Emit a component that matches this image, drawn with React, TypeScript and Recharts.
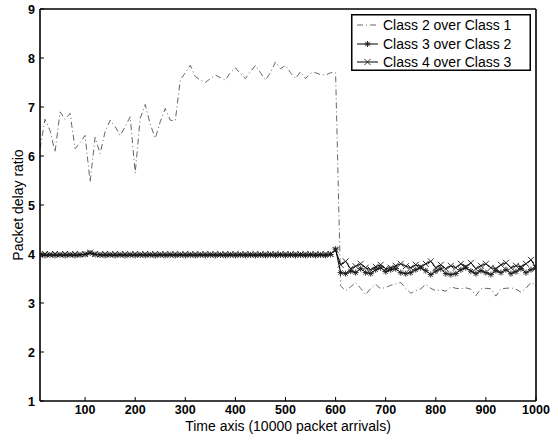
import React from "react";
import { LineChart, Line, XAxis, YAxis, Legend } from "recharts";

const TIME = [
  10, 20, 30, 40, 50, 60, 70, 80, 90, 100,
  110, 120, 130, 140, 150, 160, 170, 180, 190, 200,
  210, 220, 230, 240, 250, 260, 270, 280, 290, 300,
  310, 320, 330, 340, 350, 360, 370, 380, 390, 400,
  410, 420, 430, 440, 450, 460, 470, 480, 490, 500,
  510, 520, 530, 540, 550, 560, 570, 580, 590, 600,
  610, 620, 630, 640, 650, 660, 670, 680, 690, 700,
  710, 720, 730, 740, 750, 760, 770, 780, 790, 800,
  810, 820, 830, 840, 850, 860, 870, 880, 890, 900,
  910, 920, 930, 940, 950, 960, 970, 980, 990, 1000,
];

const CLASS2_OVER_1 = [
  6.15, 6.75, 6.52, 6.08, 6.9, 6.75, 6.87, 6.15, 6.27, 6.42,
  5.47, 6.38, 6.05, 6.5, 6.73, 6.6, 6.42, 6.6, 6.8, 5.65,
  6.77, 7.05, 6.65, 6.36, 6.7, 6.97, 6.73, 6.72, 7.55, 7.7,
  7.85, 7.62, 7.55, 7.5, 7.58, 7.65, 7.6, 7.55, 7.7, 7.8,
  7.68, 7.58, 7.72, 7.85, 7.7, 7.55, 7.7, 7.92, 7.78, 7.85,
  7.7, 7.58, 7.72, 7.58, 7.69, 7.7, 7.66, 7.65, 7.7, 7.7,
  3.35, 3.25, 3.33, 3.42, 3.3, 3.17, 3.3, 3.38, 3.29, 3.32,
  3.36, 3.39, 3.42, 3.3, 3.2, 3.25, 3.29, 3.38, 3.3, 3.25,
  3.27, 3.24, 3.33, 3.3, 3.29, 3.31, 3.28, 3.15, 3.29, 3.3,
  3.29, 3.14, 3.29, 3.3, 3.31, 3.28, 3.22, 3.3, 3.42, 3.36,
];

const CLASS3_OVER_2 = [
  3.98, 3.97, 3.98, 3.97, 3.98, 3.97, 3.98, 3.97, 3.98, 3.99,
  4.02, 3.99, 3.98, 3.97, 3.98, 3.97, 3.98, 3.97, 3.98, 3.97,
  3.98, 3.97, 3.98, 3.97, 3.98, 3.97, 3.98, 3.97, 3.98, 3.97,
  3.98, 3.97, 3.98, 3.97, 3.98, 3.97, 3.98, 3.97, 3.98, 3.97,
  3.98, 3.97, 3.98, 3.97, 3.98, 3.97, 3.98, 3.97, 3.98, 3.97,
  3.98, 3.97, 3.98, 3.97, 3.98, 3.97, 3.98, 3.97, 3.99, 4.1,
  3.62, 3.6, 3.65, 3.62, 3.7, 3.62, 3.6, 3.68, 3.72, 3.64,
  3.68, 3.7, 3.62, 3.6, 3.62, 3.68, 3.72, 3.66, 3.58, 3.65,
  3.7, 3.6, 3.58, 3.6, 3.68, 3.72, 3.65, 3.6, 3.66, 3.62,
  3.58, 3.66, 3.62, 3.68, 3.6, 3.64, 3.7, 3.62, 3.68, 3.72,
];

const CLASS4_OVER_3 = [
  3.99, 4.0, 3.99, 4.0, 3.99, 4.0, 3.99, 4.0, 3.99, 4.0,
  4.03, 4.0, 3.99, 4.0, 3.99, 4.0, 3.99, 4.0, 3.99, 4.0,
  3.99, 4.0, 3.99, 4.0, 3.99, 4.0, 3.99, 4.0, 3.99, 4.0,
  3.99, 4.0, 3.99, 4.0, 3.99, 4.0, 3.99, 4.0, 3.99, 4.0,
  3.99, 4.0, 3.99, 4.0, 3.99, 4.0, 3.99, 4.0, 3.99, 4.0,
  3.99, 4.0, 3.99, 4.0, 3.99, 4.0, 3.99, 4.0, 4.0, 4.08,
  3.78, 3.85, 3.7, 3.75, 3.8, 3.72, 3.68, 3.74, 3.78, 3.7,
  3.72, 3.76, 3.8, 3.75, 3.72, 3.78, 3.74, 3.8, 3.85, 3.72,
  3.78, 3.7, 3.76, 3.72, 3.8, 3.74, 3.82, 3.7, 3.76, 3.8,
  3.72, 3.7, 3.78, 3.82, 3.72, 3.76, 3.74, 3.8, 3.88, 3.72,
];

const X_TICKS = [100, 200, 300, 400, 500, 600, 700, 800, 900, 1000];
const Y_TICKS = [1, 2, 3, 4, 5, 6, 7, 8, 9];

const SERIES_NAMES = ["Class 2 over Class 1", "Class 3 over Class 2", "Class 4 over Class 3"];

const data = TIME.map((t, i) => ({
  t,
  c2: CLASS2_OVER_1[i],
  c3: CLASS3_OVER_2[i],
  c4: CLASS4_OVER_3[i],
}));

const FONT = '"Liberation Sans", Arial, Helvetica, sans-serif';
const MARK = "#1a1a1a";

function starPath(cx: number, cy: number, r: number) {
  const d = r * 0.72;
  return `M${cx - r},${cy}L${cx + r},${cy}M${cx},${cy - r}L${cx},${cy + r}M${cx - d},${cy - d}L${cx + d},${cy + d}M${cx - d},${cy + d}L${cx + d},${cy - d}`;
}
function crossPath(cx: number, cy: number, r: number) {
  return `M${cx - r},${cy - r}L${cx + r},${cy + r}M${cx - r},${cy + r}L${cx + r},${cy - r}`;
}

const StarDot = (props: any) => {
  const { cx, cy, index } = props;
  if (cx == null || cy == null) return <g key={`s${index}`} />;
  return <path key={`s${index}`} d={starPath(cx, cy, 3)} stroke={MARK} strokeWidth={0.9} fill="none" />;
};
const CrossDot = (props: any) => {
  const { cx, cy, index } = props;
  if (cx == null || cy == null) return <g key={`x${index}`} />;
  return <path key={`x${index}`} d={crossPath(cx, cy, 3)} stroke={MARK} strokeWidth={0.9} fill="none" />;
};

const XTick = (props: any) => (
  <text
    x={props.x}
    y={props.y}
    dy="0.71em"
    textAnchor="middle"
    fontFamily={FONT}
    fontSize={12.5}
    fontWeight="bold"
    fill="#000"
  >
    {props.payload.value}
  </text>
);
const YTick = (props: any) => (
  <text
    x={props.x}
    y={props.y}
    dy="0.36em"
    textAnchor="end"
    fontFamily={FONT}
    fontSize={12.5}
    fontWeight="bold"
    fill="#000"
  >
    {props.payload.value}
  </text>
);

const renderLegend = () => (
  <svg width={180} height={57} style={{ display: "block" }}>
    <rect x={0.75} y={0.75} width={178.5} height={55.5} fill="#fff" stroke="#000" strokeWidth={1.5} />
    <line x1={6} y1={11} x2={27} y2={11} stroke="#555" strokeWidth={0.9} strokeDasharray="6 3 1 3" />
    <text x={32} y={16} fontFamily={FONT} fontSize={14} fill="#000">{SERIES_NAMES[0]}</text>
    <line x1={6} y1={30} x2={27} y2={30} stroke="#000" strokeWidth={1} />
    <path d={starPath(16.5, 30, 3)} stroke={MARK} strokeWidth={0.9} fill="none" />
    <text x={32} y={35} fontFamily={FONT} fontSize={14} fill="#000">{SERIES_NAMES[1]}</text>
    <line x1={6} y1={48} x2={27} y2={48} stroke="#000" strokeWidth={1} />
    <path d={crossPath(16.5, 48, 3)} stroke={MARK} strokeWidth={0.9} fill="none" />
    <text x={32} y={53} fontFamily={FONT} fontSize={14} fill="#000">{SERIES_NAMES[2]}</text>
  </svg>
);

export default function App() {
  return (
    <div style={{ position: "absolute", left: 0, top: 0, width: 558, height: 441, background: "#fff" }}>
      <LineChart
        width={558}
        height={441}
        data={data}
        margin={{ top: 8, right: 21, left: 0, bottom: 0 }}
      >
        <XAxis
          xAxisId="b"
          dataKey="t"
          type="number"
          domain={[10, 1000]}
          ticks={X_TICKS}
          allowDataOverflow
          height={40}
          stroke="#000"
          tickSize={-4}
          tickMargin={8}
          tick={XTick}
          axisLine={{ stroke: "#000", strokeWidth: 1.6 }}
          tickLine={{ stroke: "#000", strokeWidth: 1 }}
          label={{
            value: "Time axis (10000 packet arrivals)",
            position: "insideBottom",
            offset: 10,
            style: { fontFamily: FONT, fontSize: 14, fill: "#000" },
          }}
        />
        <XAxis
          xAxisId="top"
          dataKey="t"
          type="number"
          orientation="top"
          domain={[10, 1000]}
          ticks={X_TICKS}
          allowDataOverflow
          height={1}
          stroke="#000"
          tickSize={-4}
          tick={false}
          axisLine={{ stroke: "#000", strokeWidth: 1.6 }}
          tickLine={{ stroke: "#000", strokeWidth: 1 }}
        />
        <YAxis
          yAxisId="l"
          type="number"
          domain={[1, 9]}
          ticks={Y_TICKS}
          allowDataOverflow
          width={40}
          stroke="#000"
          tickSize={-4}
          tickMargin={9}
          tick={YTick}
          axisLine={{ stroke: "#000", strokeWidth: 1.6 }}
          tickLine={{ stroke: "#000", strokeWidth: 1 }}
          label={{
            value: "Packet delay ratio",
            angle: -90,
            position: "center",
            dx: -2,
            style: { fontFamily: FONT, fontSize: 14, fill: "#000", textAnchor: "middle" },
          }}
        />
        <YAxis
          yAxisId="r"
          orientation="right"
          type="number"
          domain={[1, 9]}
          ticks={Y_TICKS}
          allowDataOverflow
          width={1}
          stroke="#000"
          tickSize={-4}
          tick={false}
          axisLine={{ stroke: "#000", strokeWidth: 1.6 }}
          tickLine={{ stroke: "#000", strokeWidth: 1 }}
        />
        <Legend
          layout="vertical"
          align="center"
          verticalAlign="middle"
          content={renderLegend}
          wrapperStyle={{ top: 14, left: 351, width: 180, height: 57 }}
        />
        <Line
          xAxisId="b"
          yAxisId="l"
          dataKey="c2"
          name={SERIES_NAMES[0]}
          stroke="#555"
          strokeWidth={0.9}
          strokeDasharray="6 3 1 3"
          dot={false}
          isAnimationActive={false}
        />
        <Line
          xAxisId="b"
          yAxisId="l"
          dataKey="c3"
          name={SERIES_NAMES[1]}
          stroke="#000"
          strokeWidth={1}
          dot={StarDot}
          isAnimationActive={false}
        />
        <Line
          xAxisId="b"
          yAxisId="l"
          dataKey="c4"
          name={SERIES_NAMES[2]}
          stroke="#000"
          strokeWidth={1}
          dot={CrossDot}
          isAnimationActive={false}
        />
      </LineChart>
    </div>
  );
}
